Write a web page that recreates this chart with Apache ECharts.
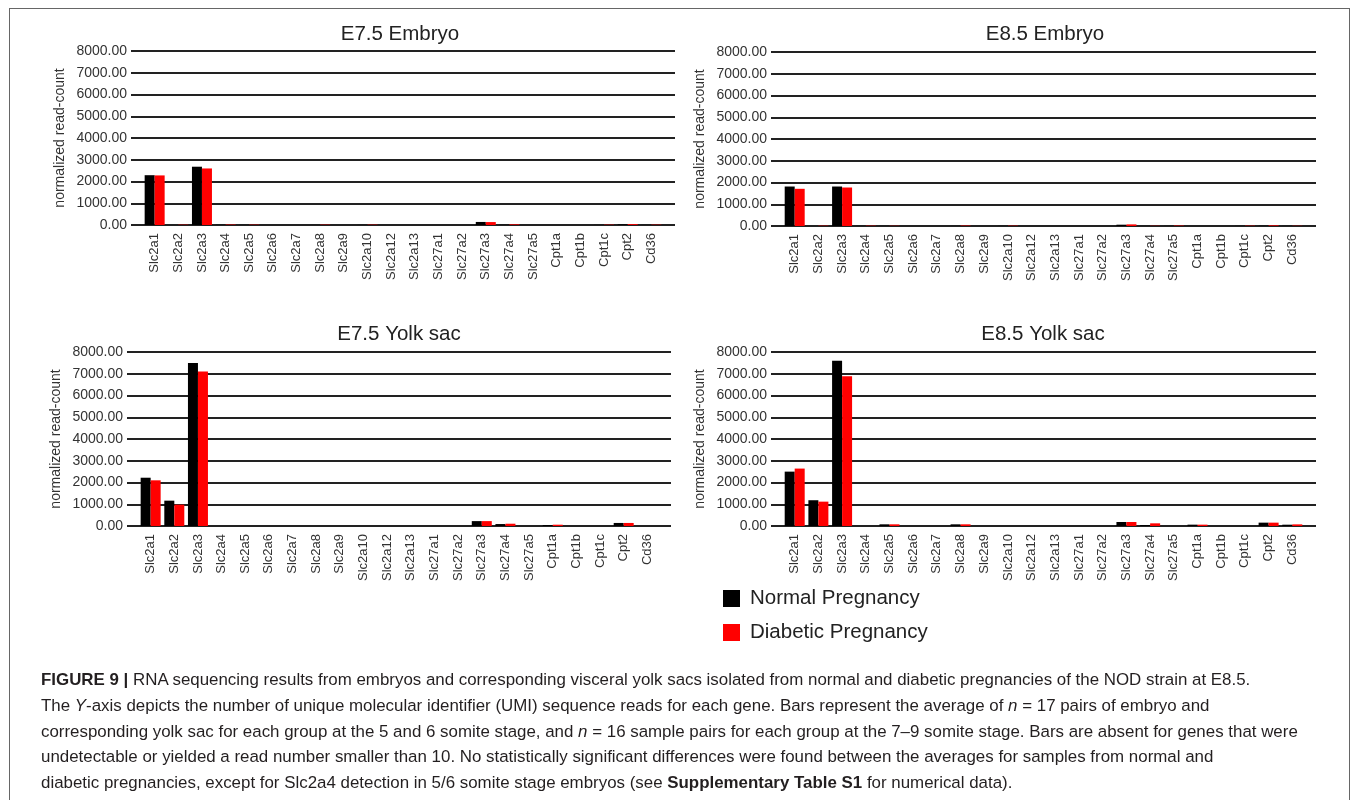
<!DOCTYPE html>
<html>
<head>
<meta charset="utf-8">
<script src="https://cdn.jsdelivr.net/npm/echarts@6/dist/echarts.min.js"></script>
<style>
  html, body { margin: 0; padding: 0; background: #fff; }
  #frame { position: absolute; left: 9px; top: 8px; width: 1341px; height: 900px; border: 1px solid #666; box-sizing: border-box; }
  #chart { position: absolute; left: 0; top: 0; width: 1355px; height: 800px; }
  #caption { position: absolute; left: 41px; top: 667px; width: 1300px; font-family: "Liberation Sans", Arial, sans-serif; font-size: 16.9px; line-height: 25.8px; color: #231f20; white-space: nowrap; }
  #caption b { font-weight: bold; }
</style>
</head>
<body>
<div id="frame"></div>
<div id="chart"></div>
<div id="caption"><b>FIGURE 9 |</b> RNA sequencing results from embryos and corresponding visceral yolk sacs isolated from normal and diabetic pregnancies of the NOD strain at E8.5.<br>The <i>Y</i>-axis depicts the number of unique molecular identifier (UMI) sequence reads for each gene. Bars represent the average of <i>n</i> = 17 pairs of embryo and<br>corresponding yolk sac for each group at the 5 and 6 somite stage, and <i>n</i> = 16 sample pairs for each group at the 7–9 somite stage. Bars are absent for genes that were<br>undetectable or yielded a read number smaller than 10. No statistically significant differences were found between the averages for samples from normal and<br>diabetic pregnancies, except for Slc2a4 detection in 5/6 somite stage embryos (see <b>Supplementary Table S1</b> for numerical data).</div>
<script>
const categories = ['Slc2a1','Slc2a2','Slc2a3','Slc2a4','Slc2a5','Slc2a6','Slc2a7','Slc2a8','Slc2a9','Slc2a10','Slc2a12','Slc2a13','Slc27a1','Slc27a2','Slc27a3','Slc27a4','Slc27a5','Cpt1a','Cpt1b','Cpt1c','Cpt2','Cd36'];
const panelTitles = ['E7.5 Embryo', 'E8.5 Embryo', 'E7.5 Yolk sac', 'E8.5 Yolk sac'];
const seriesNames = ['Normal Pregnancy', 'Diabetic Pregnancy'];
const yTicks = [0, 1000, 2000, 3000, 4000, 5000, 6000, 7000, 8000];

const e75EmbryoNormal   = [2290, 0, 2680, 10, 5, 0, 0, 5, 0, 5, 0, 0, 0, 0, 140, 10, 0, 0, 0, 5, 30, 5];
const e75EmbryoDiabetic = [2280, 15, 2600, 20, 15, 0, 0, 15, 0, 15, 0, 0, 0, 0, 135, 30, 0, 0, 0, 15, 40, 15];
const e85EmbryoNormal   = [1815, 0, 1815, 5, 5, 0, 0, 5, 0, 5, 0, 0, 0, 0, 60, 5, 5, 0, 0, 5, 10, 5];
const e85EmbryoDiabetic = [1710, 15, 1770, 15, 10, 0, 0, 20, 0, 15, 0, 0, 0, 0, 75, 10, 20, 0, 0, 15, 30, 10];
const e75YolkNormal     = [2220, 1165, 7500, 0, 0, 0, 0, 0, 0, 0, 0, 0, 0, 0, 225, 90, 0, 45, 0, 0, 140, 0];
const e75YolkDiabetic   = [2100, 980, 7100, 0, 0, 0, 0, 0, 0, 0, 0, 0, 0, 0, 225, 105, 0, 60, 0, 0, 140, 0];
const e85YolkNormal     = [2500, 1185, 7600, 0, 77, 0, 0, 77, 0, 0, 0, 0, 0, 0, 185, 46, 0, 62, 0, 0, 154, 60];
const e85YolkDiabetic   = [2640, 1120, 6880, 0, 77, 0, 0, 77, 0, 0, 0, 0, 0, 0, 185, 123, 0, 62, 0, 0, 154, 75];

const panelData = [
  [e75EmbryoNormal, e75EmbryoDiabetic],
  [e85EmbryoNormal, e85EmbryoDiabetic],
  [e75YolkNormal, e75YolkDiabetic],
  [e85YolkNormal, e85YolkDiabetic]
];

const grids = [
  { left: 131, top: 51, width: 544, height: 174 },
  { left: 771, top: 52, width: 545, height: 174 },
  { left: 127, top: 352, width: 544, height: 174 },
  { left: 771, top: 352, width: 545, height: 174 }
];
const titlePos = [ [395, 19], [1040, 19], [394, 319], [1038, 319] ];
const colors = ['#000000', '#ff0000'];
const FONT = '"Liberation Sans", Arial, sans-serif';

const option = {
  animation: false,
  backgroundColor: 'transparent',
  title: panelTitles.map((t, i) => ({
    text: t, left: titlePos[i][0], top: titlePos[i][1], textAlign: 'center',
    textStyle: { fontFamily: FONT, fontSize: 20.5, fontWeight: 'normal', color: '#222' }
  })),
  legend: {
    data: seriesNames, orient: 'vertical', left: 718, top: 583,
    itemWidth: 17, itemHeight: 17, itemGap: 13, icon: 'rect',
    textStyle: { fontFamily: FONT, fontSize: 20.5, color: '#222', padding: [0, 0, 0, 5] }
  },
  grid: grids.map(g => Object.assign({ containLabel: false }, g)),
  xAxis: grids.map((g, i) => ({
    type: 'value', gridIndex: i, min: -1, max: 22, interval: 1,
    axisLine: { show: false }, axisTick: { show: false }, splitLine: { show: false },
    axisLabel: {
      rotate: 90, margin: 8, fontFamily: FONT, fontSize: 13, color: '#333',
      showMinLabel: true, showMaxLabel: true,
      formatter: v => (Number.isInteger(v) && categories[v]) ? categories[v] : ''
    }
  })),
  yAxis: grids.map((g, i) => ({
    type: 'value', gridIndex: i, min: yTicks[0], max: yTicks[yTicks.length - 1], interval: 1000,
    name: 'normalized read-count', nameLocation: 'middle', nameGap: 64,
    nameTextStyle: { fontFamily: FONT, fontSize: 14, color: '#333' },
    axisLine: { show: false }, axisTick: { show: false },
    splitLine: { show: true, lineStyle: { color: '#222', width: 1.8 } },
    axisLabel: { margin: 4, fontFamily: FONT, fontSize: 14, color: '#333', formatter: v => v.toFixed(2) }
  })),
  series: []
};

panelData.forEach((pair, p) => {
  pair.forEach((vals, s) => {
    option.series.push({
      type: 'bar', name: seriesNames[s], xAxisIndex: p, yAxisIndex: p,
      barWidth: 10, barGap: '0%',
      itemStyle: { color: colors[s] },
      data: vals.map((v, i) => [i, v])
    });
  });
});

const chart = echarts.init(document.getElementById('chart'), null, { renderer: 'canvas' });
chart.setOption(option);
</script>
</body>
</html>
